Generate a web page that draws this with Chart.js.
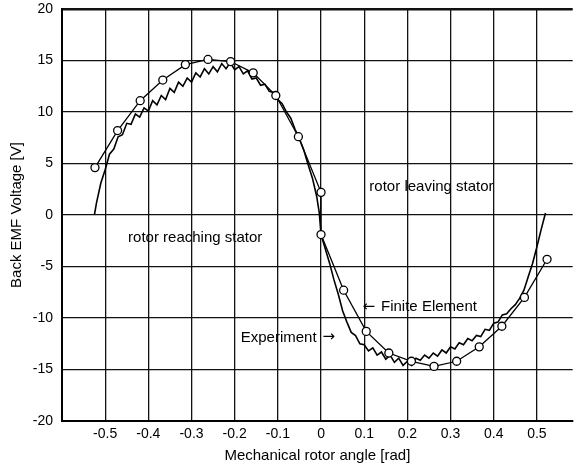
<!DOCTYPE html>
<html>
<head>
<meta charset="utf-8">
<script src="https://cdn.jsdelivr.net/npm/chart.js@4/dist/chart.umd.min.js"></script>
<style>
  html, body { margin: 0; padding: 0; background: #fff; overflow: hidden; }
  canvas { display: block; }
</style>
</head>
<body>
<canvas id="emfChart" width="578" height="465"></canvas>
<script>
// finite element result (open circles), rad / V
const feAngle = [-0.5236, -0.4712, -0.4189, -0.3665, -0.3142, -0.2618, -0.2094, -0.1571, -0.1047, -0.0524,
                 0, 0, 0.0524, 0.1047, 0.1571, 0.2094, 0.2618, 0.3142, 0.3665, 0.4189, 0.4712, 0.5236];
const feVoltage = [4.6, 8.2, 11.1, 13.1, 14.6, 15.1, 14.9, 13.8, 11.6, 7.6,
                   2.2, -1.9, -7.3, -11.3, -13.4, -14.2, -14.7, -14.2, -12.8, -10.8, -8.0, -4.3];

// measured back EMF (noisy trace)
const expAngle = [-0.525, -0.52, -0.51, -0.50, -0.49, -0.48, -0.47, -0.46, -0.45, -0.44, -0.43, -0.42, -0.41, -0.40,
                  -0.39, -0.38, -0.37, -0.36, -0.35, -0.34, -0.33, -0.32, -0.31, -0.30, -0.29, -0.28, -0.27, -0.26,
                  -0.25, -0.24, -0.23, -0.22, -0.21, -0.20, -0.19, -0.18, -0.17, -0.16, -0.15, -0.14, -0.13, -0.12,
                  -0.11, -0.10, -0.09, -0.08, -0.07, -0.06, -0.05, -0.04, -0.03, -0.02, -0.01, -0.004, 0.0,
                  0.01, 0.02, 0.03, 0.04, 0.05, 0.06, 0.07, 0.08, 0.09, 0.10, 0.11, 0.12, 0.13, 0.14, 0.15, 0.16,
                  0.17, 0.18, 0.19, 0.20, 0.21, 0.22, 0.23, 0.24, 0.25, 0.26, 0.27, 0.28, 0.29, 0.30, 0.31, 0.32,
                  0.33, 0.34, 0.35, 0.36, 0.37, 0.38, 0.39, 0.40, 0.41, 0.42, 0.43, 0.44, 0.45, 0.46, 0.47, 0.48,
                  0.49, 0.50, 0.51, 0.52];
const expVoltage = [0.0, 1.2, 3.1, 4.4, 5.9, 6.4, 7.6, 7.8, 8.9, 8.8, 9.8, 9.5, 10.4, 10.1,
                    11.1, 10.7, 11.6, 11.2, 12.3, 11.9, 12.9, 12.5, 13.3, 12.9, 13.8, 13.4, 14.2, 13.7,
                    14.4, 13.9, 14.7, 14.2, 14.8, 14.1, 14.4, 13.7, 14.0, 13.2, 13.3, 12.6, 12.7, 12.0,
                    11.9, 11.2, 10.8, 10.0, 9.4, 8.3, 7.4, 6.3, 4.9, 3.6, 1.8, 0.2, -1.9,
                    -3.3, -4.7, -6.3, -7.7, -9.3, -10.4, -11.4, -11.7, -12.5, -12.6, -13.2, -12.9, -13.6, -13.3, -14.0, -13.6,
                    -14.3, -13.9, -14.6, -14.2, -14.6, -13.9, -14.1, -13.6, -13.9, -13.4, -13.7, -13.1, -13.4, -12.8, -13.0, -12.4,
                    -12.6, -12.0, -12.2, -11.7, -11.8, -11.1, -11.2, -10.5, -10.4, -9.7, -9.6, -9.1, -8.7, -8.1, -7.3, -6.0,
                    -4.7, -3.1, -1.4, 0.2];

const xTicks = [-0.6, -0.5, -0.4, -0.3, -0.2, -0.1, 0, 0.1, 0.2, 0.3, 0.4, 0.5];
const yTicks = [-20, -15, -10, -5, 0, 5, 10, 15, 20];

// arrow: -1 = left arrow before the text, 1 = right arrow after it
const labels = [
    { text: 'rotor leaving stator', x: 0.112, y: 2.7, arrow: 0 },
    { text: 'rotor reaching stator', x: -0.447, y: -2.2, arrow: 0 },
    { text: 'Finite Element', x: 0.096, y: -8.9, arrow: -1 },
    { text: 'Experiment', x: -0.186, y: -11.9, arrow: 1 }
];

const textLabels = {
    id: 'textLabels',
    afterDatasetsDraw(chart) {
        const { ctx, scales: { x, y } } = chart;
        const textFont = '15px "Liberation Sans", Arial, sans-serif';
        const arrowFont = '15px "DejaVu Sans", sans-serif';
        ctx.save();
        ctx.fillStyle = '#000';
        ctx.textAlign = 'left';
        ctx.textBaseline = 'middle';
        labels.forEach(l => {
            let px = x.getPixelForValue(l.x);
            const py = y.getPixelForValue(l.y);
            if (l.arrow < 0) {
                ctx.font = arrowFont;
                ctx.fillText('\u2190', px, py);
                px += ctx.measureText('\u2190').width + 6;
            }
            ctx.font = textFont;
            ctx.fillText(l.text, px, py);
            if (l.arrow > 0) {
                px += ctx.measureText(l.text).width + 6;
                ctx.font = arrowFont;
                ctx.fillText('\u2192', px, py);
            }
        });
        ctx.restore();
    }
};

Chart.defaults.font.family = '"Liberation Sans", Arial, sans-serif';
Chart.defaults.font.size = 14;
Chart.defaults.color = '#000';

new Chart(document.getElementById('emfChart'), {
    type: 'scatter',
    data: {
        datasets: [{
            label: 'Finite Element',
            data: feAngle.map((a, i) => ({ x: a, y: feVoltage[i] })),
            showLine: true,
            borderColor: '#000',
            borderWidth: 1.3,
            pointRadius: 4,
            pointBorderWidth: 1.3,
            pointBackgroundColor: '#fff',
            pointBorderColor: '#000',
            tension: 0
        }, {
            label: 'Experiment',
            data: expAngle.map((a, i) => ({ x: a, y: expVoltage[i] })),
            showLine: true,
            borderColor: '#000',
            borderWidth: 1.6,
            pointRadius: 0,
            tension: 0
        }]
    },
    options: {
        responsive: false,
        animation: false,
        layout: { padding: { top: 9, right: 0, left: 0, bottom: 0 } },
        plugins: { legend: { display: false }, tooltip: { enabled: false } },
        scales: {
            x: {
                type: 'linear',
                min: -0.6,
                max: 0.583,
                afterBuildTicks: s => { s.ticks = xTicks.map(v => ({ value: v })); },
                afterFit: s => { s.height = 44; s.paddingLeft = 0; s.paddingRight = 0; },
                ticks: {
                    padding: 5,
                    maxRotation: 0,
                    callback: v => (v < -0.55 ? '' : String(Math.round(v * 10) / 10))
                },
                grid: { color: '#111', lineWidth: 1.3, drawTicks: false },
                border: { display: true, color: '#000', width: 2 },
                title: { display: true, text: 'Mechanical rotor angle [rad]', font: { size: 15 }, padding: { top: 0, bottom: 0 } }
            },
            y: {
                min: -20,
                max: 20,
                afterBuildTicks: s => { s.ticks = yTicks.map(v => ({ value: v })); },
                afterFit: s => { s.width = 62; s.paddingTop = 0; s.paddingBottom = 0; },
                ticks: { padding: 9 },
                grid: { color: '#111', lineWidth: c => (c.tick && c.tick.value === 20 ? 2.5 : 1.3), drawTicks: false },
                border: { display: true, color: '#000', width: 2 },
                title: { display: true, text: 'Back EMF Voltage [V]', font: { size: 15 }, padding: { top: 8, bottom: 0 } }
            }
        }
    },
    plugins: [textLabels]
});
</script>
</body>
</html>
